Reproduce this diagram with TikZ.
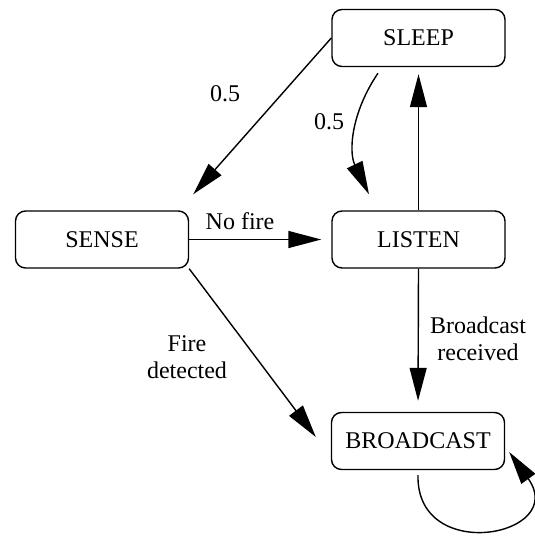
\documentclass[tikz,border=0pt]{standalone}
\usepackage{fontspec}
\setmainfont{Liberation Serif}
\usetikzlibrary{positioning,arrows.meta,calc}
\definecolor{fsmLine}{HTML}{000000}
\definecolor{fsmFill}{HTML}{FFFFFF}
\tikzset{
  state/.style={
    draw=fsmLine, line width=1.4pt, fill=fsmFill, rounded corners=10pt,
    minimum width=173pt, minimum height=57pt, inner sep=2pt},
  link/.style={draw=fsmLine, line width=1.4pt,
               -{Triangle[length=33pt, width=17pt]}},
  lbl/.style={inner sep=0pt, align=center},
}

\begin{document}
\begin{tikzpicture}[x=1pt, y=1pt, font=\fontsize{24}{27}\selectfont]

\useasboundingbox (0,0) rectangle (535,-536);

\node[state] (sleep)  at (418.5,  -38)   {SLEEP};
\node[state] (sense)  at (102,   -239.5) {SENSE};
\node[state] (listen) at (418.5, -239.5) {LISTEN};
\node[state] (bcast)  at (418,   -441)   {BROADCAST};

\draw[link] (sleep.west) -- ([shift={(4,16)}]sense.north east);
\draw[link] ([shift={(-40.5,-6)}]sleep.south) to[bend right=30] ([shift={(-49.5,16)}]listen.north);
\draw[link, shorten >=7pt] (listen.north) -- (sleep.south);
\draw[link, shorten >=10pt] (sense.east) -- (listen.west);
\draw[link] (sense.south east) -- ([shift={(-15,4)}]bcast.west);
\draw[link, shorten >=11pt] (listen.south) -- (bcast.north);
\draw[link] ([yshift=-5pt]bcast.south) .. controls +(-2,-90) and +(60,-84) .. ([shift={(4,-11)}]bcast.east);

% edge labels
\node[lbl] (p1) at (225,-94)  {0.5};
\node[lbl] (p2) at (329,-122) {0.5};
\node[lbl] (nofire) at (240,-221) {No fire};
\node[lbl] (fire) at (187,-357) {Fire\\detected};
\node[lbl] (recv) at (478,-339) {Broadcast\\received};

\end{tikzpicture}
\end{document}
